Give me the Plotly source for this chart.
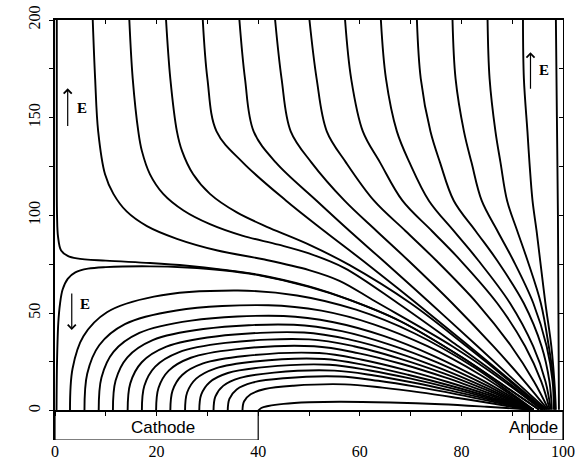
import plotly.graph_objects as go

# ---------------- data (x in 0..100, y in µm) ----------------
Y_MID = [200, 170, 143, 127, 107.5, 92, 77, 55, 33, 15, 0.5]
TOP_X = [
    [7.43, 7.9, 8.5, 9.85, 11.5, 14.1, 18.1, 24, 32, 41, 50, 56, 63, 78.2, 88.4, 95.8],
    [14.63, 15.3, 16.4, 17.1, 18.7, 21.3, 25.3, 30.5, 37, 44, 50, 57, 67.5, 79.4, 88.9, 96.0],
    [21.86, 22.7, 24, 25, 27.2, 30.5, 35.8, 42.3, 50, 58, 70, 81, 89.6, 96.2],
    [29.09, 30, 31.8, 37, 45.5, 53, 60.5, 71.15, 81.55, 89.9, 96.5],
    [36.3, 37.4, 39.1, 43.5, 51.5, 58, 64.5, 73.9, 83.17, 90.66, 96.8],
    [43.33, 44.6, 46.4, 50.5, 57, 63.3, 69.5, 78.2, 86.27, 92.41, 97.0],
    [50.09, 51.5, 53.5, 57.3, 62.8, 69, 75, 83.1, 89.82, 94.28, 97.2],
    [57.1, 58.3, 60.6, 64, 68.4, 74.2, 79.8, 87.06, 92.54, 95.71, 97.4],
    [64.15, 65.15, 67.3, 69.8, 73.6, 78.5, 83.3, 89.58, 94.12, 96.55, 97.6],
    [71.24, 72.0, 73.9, 75.8, 78.5, 82.8, 87, 92.28, 95.78, 97.33, 97.8],
    [78.25, 78.85, 80.5, 82, 84, 87.1, 90.2, 94.16, 96.78, 97.95, 98.2],
    [85.15, 85.55, 86.7, 87.7, 89, 91, 93, 95.64, 97.2, 98.17, 98.4],
    [92.12, 92.3, 93, 93.4, 94, 94.8, 95.5, 96.54, 97.7, 98.3, 98.6],
    [98.6, 98.8, 99, 99.1, 99.2],
]
TOP_Y = [
    [200, 170, 143, 121, 111, 102, 94.5, 88, 82, 77.5, 72, 66.5, 56, 33, 15, 0.5],
    [200, 170, 143, 133, 121, 111, 102.5, 95.5, 89.5, 85, 80.5, 73, 55, 33, 15, 0.5],
    [200, 170, 143, 133, 121, 111, 101.5, 93.5, 85, 74.5, 55, 33, 15, 0.5],
    Y_MID, Y_MID, Y_MID, Y_MID, Y_MID, Y_MID, Y_MID, Y_MID, Y_MID, Y_MID,
    [200, 150, 100, 50, 0.5],
]

SEP_X = [
    [0.35, 0.35, 0.4, 0.6, 1.2, 2.5, 4.3, 10, 18.7, 26, 33, 40, 50, 58, 68, 80, 88, 95.3],
    [0.3, 0.4, 0.65, 1.0, 1.5, 2.5, 4, 6.5, 10, 18.7, 26, 33, 40, 50, 58, 68, 80, 88, 95.3],
]
SEP_Y = [
    [200, 140, 100, 89, 82, 79.3, 78, 76.8, 75.6, 74.2, 72.2, 69.6, 63.6, 56.7, 45.8, 27.5, 13.5, 0.5],
    [0, 25, 45, 55, 62, 67.5, 70.8, 72.7, 73.5, 73.9, 73.3, 71.9, 69.4, 63.4, 56.7, 45.8, 27.5, 13.5, 0.5],
]

ARC_X = [
    [2.95, 3.45, 5.59, 10.22, 19.48, 36, 47.64, 59.28, 70.92, 82.56, 89.54, 94.2],
    [5.8, 6.34, 8.70, 13.76, 23.9, 42, 52.44, 62.88, 73.32, 83.76, 90.02, 94.2],
    [8.6, 9.15, 11.51, 16.61, 26.8, 45, 54.84, 64.68, 74.52, 84.36, 90.26, 94.2],
    [11.4, 11.93, 14.25, 19.23, 29.2, 47, 56.44, 65.88, 75.32, 84.76, 90.42, 94.2],
    [14.3, 14.82, 17.08, 21.93, 31.65, 49, 58.04, 67.08, 76.12, 85.16, 90.58, 94.2],
    [17.1, 17.59, 19.73, 24.34, 33.55, 50, 58.84, 67.68, 76.52, 85.36, 90.66, 94.2],
    [19.9, 20.37, 22.39, 26.74, 35.45, 51, 59.64, 68.28, 76.92, 85.56, 90.74, 94.2],
    [22.7, 23.14, 25.04, 29.15, 37.35, 52, 60.44, 68.88, 77.32, 85.76, 90.82, 94.2],
    [25.6, 26.01, 27.79, 31.63, 39.3, 53, 61.24, 69.48, 77.72, 85.96, 90.9, 94.2],
    [28.4, 28.78, 30.45, 34.03, 41.2, 54, 62.04, 70.08, 78.12, 86.16, 91.0, 94.2],
    [31.2, 31.56, 33.1, 36.44, 43.1, 55, 62.84, 70.68, 78.52, 86.36, 91.06, 94.2],
    [34, 34.33, 35.76, 38.84, 45, 56, 63.64, 71.28, 78.92, 86.56, 91.14, 94.2],
    [36.9, 37.2, 38.51, 41.32, 46.95, 57, 64.44, 71.88, 79.32, 86.76, 91.22, 94.2],
    [40, 40.6, 42, 45, 50, 56, 66, 76, 85, 94.2],
]
ARC_Y = [
    [0, 21.5, 38.1, 50.4, 58.4, 61.5, 59.0, 51.7, 39.4, 22.1, 9.4, 0.5],
    [0, 18.9, 33.5, 44.3, 51.3, 54.0, 51.2, 44.1, 33.0, 18.3, 7.7, 0.5],
    [0, 17.0, 30.1, 39.8, 46.1, 48.5, 45.3, 38.3, 28.1, 15.3, 6.4, 0.5],
    [0, 15.4, 27.3, 36.1, 41.8, 44.0, 40.7, 33.8, 24.6, 13.2, 5.5, 0.5],
    [0, 14.0, 24.8, 32.8, 38.0, 40.0, 36.4, 29.9, 21.4, 11.4, 4.7, 0.5],
    [0, 12.8, 22.6, 29.9, 34.7, 36.5, 33.0, 26.8, 19.1, 10.1, 4.2, 0.5],
    [0, 11.6, 20.5, 27.1, 31.4, 33.0, 29.5, 23.9, 16.9, 8.8, 3.6, 0.5],
    [0, 10.3, 18.3, 24.2, 28.0, 29.5, 26.1, 20.9, 14.7, 7.7, 3.1, 0.5],
    [0, 9.3, 16.4, 21.7, 25.2, 26.5, 23.2, 18.4, 12.9, 6.7, 2.7, 0.5],
    [0, 8.2, 14.6, 19.3, 22.3, 23.5, 20.6, 16.4, 11.4, 5.9, 2.4, 0.5],
    [0, 7.2, 12.7, 16.8, 19.5, 20.5, 18.0, 14.3, 9.9, 5.2, 2.1, 0.5],
    [0, 6.1, 10.9, 14.4, 16.6, 17.5, 15.3, 12.2, 8.5, 4.4, 1.8, 0.5],
    [0, 4.7, 8.4, 11.1, 12.8, 13.5, 11.8, 9.4, 6.5, 3.4, 1.4, 0.5],
    [0, 1.4, 2.4, 3.5, 4.3, 4.6, 4.2, 3.3, 2.0, 0.5],
]

X_TICKS = [0, 20, 40, 60, 80, 100]
Y_TICKS = [0, 25, 50, 75, 100, 125, 150, 175, 200]
Y_TICKTEXT = ["0", "", "50", "", "100", "", "150", "", "200"]
CATHODE = [0, 40]
ANODE = [93.4, 100]
ELECTRODE_DEPTH = -15

SERIF = "Liberation Serif, Times New Roman, serif"
SANS = "Liberation Sans, Arial, sans-serif"
LW = 1.9

fig = go.Figure()

for xs, ys in list(zip(TOP_X, TOP_Y)) + list(zip(SEP_X, SEP_Y)) + list(zip(ARC_X, ARC_Y)):
    fig.add_trace(go.Scatter(
        x=xs, y=ys, mode="lines",
        line=dict(color="black", width=LW, shape="spline", smoothing=1.0),
        hoverinfo="skip", showlegend=False,
    ))

# placeholder traces so that the extra frame axes get drawn
fig.add_trace(go.Scatter(x=[None], y=[None], xaxis="x2", yaxis="y", showlegend=False, hoverinfo="skip"))
fig.add_trace(go.Scatter(x=[None], y=[None], xaxis="x3", yaxis="y", showlegend=False, hoverinfo="skip"))
fig.add_trace(go.Scatter(x=[None], y=[None], xaxis="x", yaxis="y2", showlegend=False, hoverinfo="skip"))

# electrode boxes
for (x0, x1) in (CATHODE, ANODE):
    fig.add_shape(type="rect", xref="x", yref="y", x0=x0, x1=x1, y0=ELECTRODE_DEPTH, y1=0,
                  line=dict(color="black", width=1.2), fillcolor="white", layer="below")

ann = []
ann.append(dict(x=sum(CATHODE) / 2 + 1.3, y=-8.6, xref="x", yref="y", text="Cathode", showarrow=False,
                font=dict(family=SANS, size=17, color="black")))
ann.append(dict(x=94.2, y=-8.6, xref="x", yref="y", text="Anode", showarrow=False,
                font=dict(family=SANS, size=17, color="black")))
ann.append(dict(x=-3.5, y=197, xref="x", yref="y", text="μm", showarrow=False, textangle=-90,
                font=dict(family=SERIF, size=16, color="black")))
# field direction arrows
for (hx, hy, tx, ty) in [(2.5, 165, 2.5, 145), (3.3, 41.3, 3.3, 60.8), (93.6, 183.5, 93.6, 164)]:
    ann.append(dict(x=hx, y=hy, ax=tx, ay=ty, xref="x", yref="y", axref="x", ayref="y",
                    text="", showarrow=True, arrowhead=4, arrowsize=1.3, arrowwidth=1.2,
                    arrowcolor="black"))
for (ex, ey) in [(5.3, 154.8), (5.9, 54.5), (96.3, 174.2)]:
    ann.append(dict(x=ex, y=ey, xref="x", yref="y", text="<b>E</b>", showarrow=False,
                    font=dict(family=SERIF, size=15, color="black")))

fig.update_layout(
    width=575, height=464,
    margin=dict(l=55, r=12, t=20, b=24, autoexpand=False),
    plot_bgcolor="white", paper_bgcolor="white",
    annotations=ann,
    xaxis=dict(range=[0, 100], showgrid=False, zeroline=False, showline=False, automargin=False,
               tickmode="array", tickvals=X_TICKS, ticktext=[str(v) for v in X_TICKS],
               ticks="", tickfont=dict(family=SERIF, size=16, color="black")),
    yaxis=dict(range=[ELECTRODE_DEPTH, 200], showgrid=False, zeroline=False, showline=True,
               automargin=False, linecolor="black", linewidth=2, ticks="outside", ticklen=4,
               tickwidth=1, tickcolor="black", tickmode="array", tickvals=Y_TICKS,
               ticktext=Y_TICKTEXT, tickangle=-90, ticklabelstandoff=3,
               tickfont=dict(family=SERIF, size=16, color="black")),
    xaxis2=dict(overlaying="x", anchor="free", position=(0 - ELECTRODE_DEPTH) / (200 - ELECTRODE_DEPTH),
                range=[0, 100], showgrid=False, zeroline=False, showline=True, linecolor="black",
                automargin=False, linewidth=2, ticks="outside", ticklen=4, tickcolor="black",
                tickmode="array", tickvals=list(range(0, 101, 10)), showticklabels=False),
    xaxis3=dict(overlaying="x", anchor="y", side="top", range=[0, 100], showgrid=False,
                automargin=False, zeroline=False, showline=True, linecolor="black", linewidth=2,
                ticks="inside", ticklen=4, tickcolor="black", tickmode="array",
                tickvals=list(range(10, 100, 10)), showticklabels=False),
    yaxis2=dict(overlaying="y", anchor="x", side="right", range=[ELECTRODE_DEPTH, 200],
                automargin=False, showgrid=False, zeroline=False, showline=True, linecolor="black",
                linewidth=1.2, ticks="inside", ticklen=4, tickcolor="black", tickmode="array",
                tickvals=list(range(0, 201, 25)), showticklabels=False),
)

fig.write_html("out.html")
